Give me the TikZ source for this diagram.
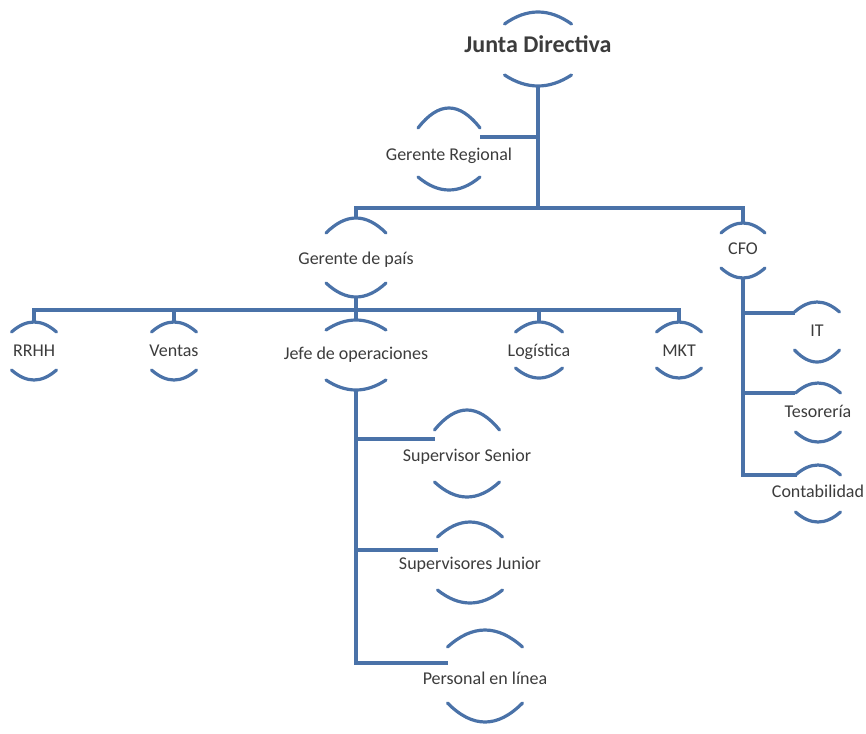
\documentclass[tikz,border=0pt]{standalone}
\usepackage{fontspec}
\setmainfont{Carlito}
\definecolor{lineblue}{RGB}{74,114,168}
\definecolor{txtgray}{RGB}{60,60,60}
\tikzset{
  conn/.style={draw=lineblue, line width=3.6pt},
  arcline/.style={draw=lineblue, line width=3.2pt, line cap=round},
  lbl/.style={text=txtgray, font=\fontsize{18}{21}\selectfont, inner sep=0pt, text height=12pt, text depth=3pt},
  boldlbl/.style={lbl, font=\bfseries\fontsize{24}{28}\selectfont, text height=16pt, text depth=4pt},
}
% name, x, text y, text, width, top-arc end y, top-arc peak y, bottom-arc end y, bottom-arc trough y
\newcommand\orgnode[9]{%
  \node[lbl] (#1) at (#2,#3) {#4};
  \draw[arcline] ({#2-#5/2},#6) .. controls ({#2-#5/6},{(4*#7-#6)/3}) and ({#2+#5/6},{(4*#7-#6)/3}) .. ({#2+#5/2},#6);
  \draw[arcline] ({#2-#5/2},#8) .. controls ({#2-#5/6},{(4*#9-#8)/3}) and ({#2+#5/6},{(4*#9-#8)/3}) .. ({#2+#5/2},#8);
  \coordinate (#1-t) at (#2,#7);
  \coordinate (#1-b) at (#2,#9);
}
\begin{document}
\begin{tikzpicture}[x=1pt,y=-1pt]
\useasboundingbox (0,0) rectangle (866,733);
% nodes
\orgnode{jd}{538}{48}{\textbf{\fontsize{24}{28}\selectfont Junta Directiva}}{67}{24}{12}{75}{86}
\orgnode{gr}{449}{156}{Gerente Regional}{62}{128}{108}{177}{190}
\orgnode{gp}{356}{260}{Gerente de país}{60}{233}{218}{283}{297}
\orgnode{cfo}{743}{250}{CFO}{44}{233}{223}{268}{278}
\orgnode{rrhh}{34}{352}{RRHH}{45}{332}{322}{370}{380}
\orgnode{ventas}{174}{352}{Ventas}{45}{332}{322}{370}{380}
\orgnode{jefe}{356}{355}{Jefe de operaciones}{60}{330}{320}{380}{390}
\orgnode{log}{539}{352}{Logística}{47}{332}{322}{368}{378}
\orgnode{mkt}{679}{352}{MKT}{45}{332}{322}{368}{378}
\orgnode{it}{817}{332}{IT}{45}{312}{302}{350}{362}
\orgnode{tes}{818}{413}{Tesorería}{45}{393}{383}{432}{442}
\orgnode{cont}{818}{493}{Contabilidad}{45}{475}{465}{512}{522}
\orgnode{ss}{467}{457}{Supervisor Senior}{65}{430}{410}{482}{497}
\orgnode{sj}{470}{565}{Supervisores Junior}{65}{537}{522}{590}{603}
\orgnode{pl}{485}{680}{Personal en línea}{75}{647}{630}{703}{722}
% connector anchor points
\coordinate (b1) at (538,208);
\coordinate (b2) at (0,310);
\coordinate (grc) at (480,137);
\coordinate (ssc) at (435,439);
\coordinate (sjc) at (438,550);
\coordinate (plc) at (448,663);
\coordinate (itc) at (795,313);
\coordinate (tesc) at (795,393);
\coordinate (contc) at (797,475);
% connectors
\draw[conn] (jd-b) -- (b1);
\draw[conn] (grc) -- (grc -| jd-b);
\draw[conn] (gp-t) -- (gp-t |- b1) -- (cfo-t |- b1) -- (cfo-t);
\draw[conn] (gp-b) -- (gp-b |- b2);
\draw[conn] (rrhh-t) -- (rrhh-t |- b2) -- (mkt-t |- b2) -- (mkt-t);
\draw[conn] (ventas-t) -- (ventas-t |- b2);
\draw[conn] (jefe-t) -- (jefe-t |- b2);
\draw[conn] (log-t) -- (log-t |- b2);
\draw[conn] (jefe-b) -- (jefe-b |- plc) -- (plc);
\draw[conn] (jefe-b |- ssc) -- (ssc);
\draw[conn] (jefe-b |- sjc) -- (sjc);
\draw[conn] (cfo-b) -- (cfo-b |- contc) -- (contc);
\draw[conn] (cfo-b |- itc) -- (itc);
\draw[conn] (cfo-b |- tesc) -- (tesc);
\end{tikzpicture}
\end{document}
